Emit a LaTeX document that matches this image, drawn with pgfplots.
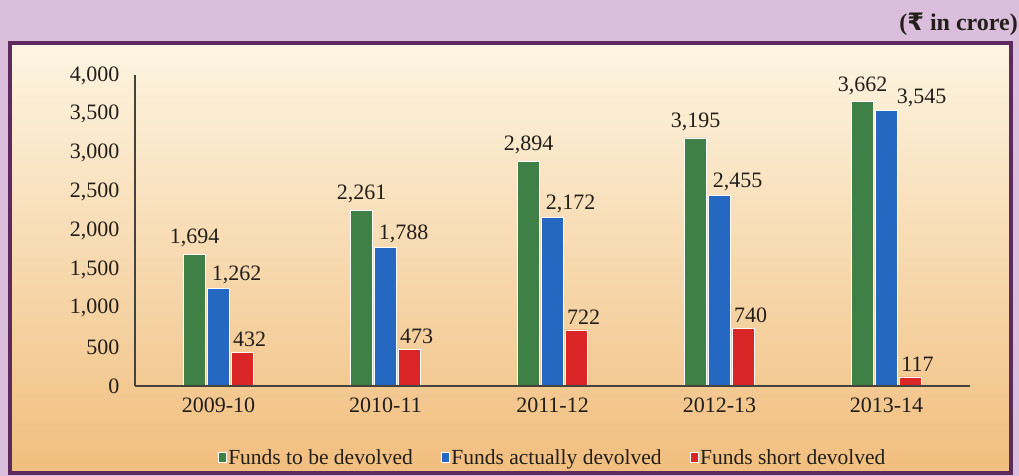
\documentclass[border=0pt]{standalone}
\usepackage{fontspec}
\setmainfont{Liberation Serif}
\newfontfamily\rupeefont{DejaVu Sans}
\usepackage{pgfplots}
\pgfplotsset{compat=1.18}
\definecolor{purpbg}{HTML}{DABEDC}
\definecolor{framecol}{HTML}{5E2A5E}
\definecolor{creamtop}{HTML}{FDF5E2}
\definecolor{creammid}{HTML}{F7D9AE}
\definecolor{peachbot}{HTML}{F1BE7E}
\definecolor{barGreen}{HTML}{3E8046}
\definecolor{barBlue}{HTML}{2468C2}
\definecolor{barRed}{HTML}{DA2626}
\definecolor{textcol}{HTML}{221E1A}
\definecolor{axisgray}{HTML}{45443C}
\pgfplotsset{mylegend/.style={legend image code/.code={\fill[##1, draw=white, line width=0.6pt] (0pt,-4pt) rectangle (8pt,6pt);}}}
\begin{document}
\begin{tikzpicture}
\useasboundingbox (0,0) rectangle (1019pt,476pt);
\fill[purpbg] (0,0) rectangle (1019pt,476pt);
\shade[top color=creamtop, middle color=creammid, bottom color=peachbot] (10pt,3pt) rectangle (1011pt,433pt);
\draw[framecol, line width=4pt] (10pt,3pt) rectangle (1011pt,433pt);
\node[anchor=east, font=\fontsize{24}{26}\selectfont\bfseries, text=textcol, inner sep=0pt] at (1018pt,452pt) {({\rupeefont\bfseries ₹} in crore)};
\begin{axis}[
  at={(135pt,90pt)}, anchor=south west,
  scale only axis, width=835pt, height=310.5pt,
  ybar=2pt, bar width=22pt,
  xmin=-0.5, xmax=4.5, ymin=0, ymax=4000,
  xtick={0,1,2,3,4},
  xticklabels={2009-10,2010-11,2011-12,2012-13,2013-14},
  ytick={0,500,1000,1500,2000,2500,3000,3500,4000},
  axis x line*=bottom, axis y line*=left,
  axis line style={-, color=axisgray, line width=1.3pt},
  major tick length=0pt,
  tick label style={font=\fontsize{22}{24}\selectfont, text=textcol},
  /pgf/number format/assume math mode=true,
  /pgf/number format/1000 sep={,},
  yticklabel style={xshift=-12pt},
  xticklabel style={yshift=-8pt},
  nodes near coords,
  nodes near coords style={font=\fontsize{22}{24}\selectfont, text=textcol, text depth=0pt},
  axis on top,
  legend style={at={(0.5,-0.232)}, anchor=center, draw=none, fill=none,
    legend columns=3, font=\fontsize{21.5}{23}\selectfont, text=textcol,
    /tikz/every even column/.append style={column sep=26pt}},
]
\addplot[fill=barGreen, draw=white, line width=0.8pt, mylegend,
  every node near coord/.append style={yshift=7pt}]
  coordinates {(0,1694) (1,2261) (2,2894) (3,3195) (4,3662)};
\addplot[fill=barBlue, draw=white, line width=0.8pt, mylegend,
  every node near coord/.append style={xshift=18pt, yshift=4pt},
  coordinate style/.condition={x==4}{xshift=17pt}]
  coordinates {(0,1262) (1,1788) (2,2172) (3,2455) (4,3545)};
\addplot[fill=barRed, draw=white, line width=0.8pt, mylegend,
  every node near coord/.append style={xshift=7pt, yshift=2pt}]
  coordinates {(0,432) (1,473) (2,722) (3,740) (4,117)};
\legend{Funds to be devolved, Funds actually devolved, Funds short devolved}
\end{axis}
\end{tikzpicture}
\end{document}
